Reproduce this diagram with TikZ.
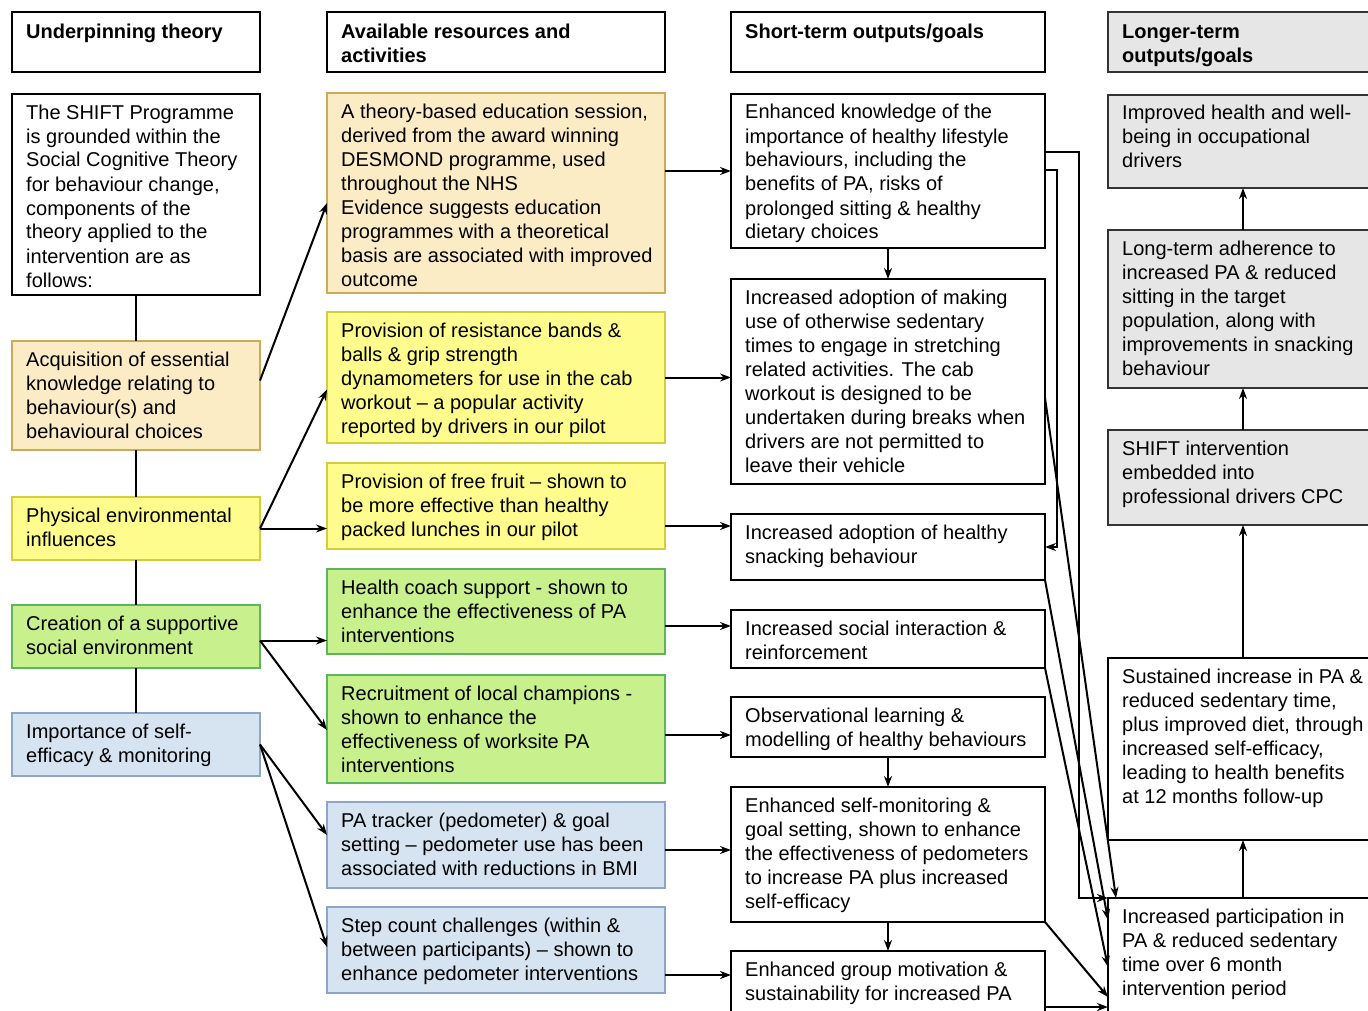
\documentclass[tikz,border=0pt]{standalone}
\usepackage{fontspec}
\setmainfont{Liberation Sans}
\usetikzlibrary{arrows.meta,calc}
\definecolor{orF}{RGB}{252,236,198}
\definecolor{orD}{RGB}{205,170,85}
\definecolor{yeF}{RGB}{253,252,140}
\definecolor{yeD}{RGB}{215,205,60}
\definecolor{grF}{RGB}{200,240,140}
\definecolor{grD}{RGB}{95,180,95}
\definecolor{blF}{RGB}{214,227,240}
\definecolor{blD}{RGB}{140,165,200}
\definecolor{gyF}{RGB}{230,230,230}
\tikzset{
 base/.style={draw, line width=1.4pt, outer sep=0pt, inner sep=0pt},
 wbox/.style={base, fill=white},
 obox/.style={base, fill=orF, draw=orD},
 ybox/.style={base, fill=yeF, draw=yeD},
 gbox/.style={base, fill=grF, draw=grD},
 bbox/.style={base, fill=blF, draw=blD},
 gybox/.style={base, fill=gyF, draw=black!80},
 txt/.style={inner sep=0pt, align=left, font=\fontsize{20}{24}\selectfont, anchor=north west},
 conn/.style={line width=2pt},
 arr/.style={conn, -{Stealth[length=11pt,width=8pt]}},
}
\newcommand\bx[8][8]{%
 \node[#7, minimum width=#5pt, minimum height=#6pt, anchor=north west] (#2) at (#3,#4) {};
 \node[txt] (#2-t) at ($(#2.north west)+(14,#1)$) {\strut #8};
}
\begin{document}
\begin{tikzpicture}[x=1pt,y=-1pt]
\useasboundingbox (0,0) rectangle (1368,1011);
\fill[white] (0,0) rectangle (1368,1011);
\clip (0,0) rectangle (1368,1011);
% headers
\bx[10]{hL}{12}{12}{248}{60}{wbox}{\textbf{Underpinning theory}}
\bx[10]{hM}{327}{12}{338}{60}{wbox}{\textbf{Available resources and}\\\textbf{activities}}
\bx[10]{hS}{731}{12}{314}{60}{wbox}{\textbf{Short-term outputs/goals}}
\bx[10]{hG}{1108}{12}{270}{60}{gybox}{\textbf{Longer-term}\\\textbf{outputs/goals}}
% left column
\bx{lShift}{12}{94}{248}{201}{wbox}{The SHIFT Programme\\is grounded within the\\Social Cognitive Theory\\for behaviour change,\\components of the\\theory applied to the\\intervention are as\\follows:}
\bx{lAcq}{12}{341}{248}{109}{obox}{Acquisition of essential\\knowledge relating to\\behaviour(s) and\\behavioural choices}
\bx{lPhys}{12}{497}{248}{63}{ybox}{Physical environmental\\influences}
\bx{lSoc}{12}{605}{248}{63}{gbox}{Creation of a supportive\\social environment}
\bx{lEff}{12}{713}{248}{63}{bbox}{Importance of self-\\efficacy \& monitoring}
% middle column
\bx{mEdu}{327}{93}{338}{200}{obox}{A theory-based education session,\\derived from the award winning\\DESMOND programme, used\\throughout the NHS\\Evidence suggests education\\programmes with a theoretical\\basis are associated with improved\\outcome}
\bx{mRes}{327}{312}{338}{131}{ybox}{Provision of resistance bands \&\\balls \& grip strength\\dynamometers for use in the cab\\workout – a popular activity\\reported by drivers in our pilot}
\bx{mFruit}{327}{463}{338}{86}{ybox}{Provision of free fruit – shown to\\be more effective than healthy\\packed lunches in our pilot}
\bx{mCoach}{327}{569}{338}{85}{gbox}{Health coach support - shown to\\enhance the effectiveness of PA\\interventions}
\bx{mChamp}{327}{675}{338}{108}{gbox}{Recruitment of local champions -\\shown to enhance the\\effectiveness of worksite PA\\interventions}
\bx{mTrack}{327}{802}{338}{86}{bbox}{PA tracker (pedometer) \& goal\\setting – pedometer use has been\\associated with reductions in BMI}
\bx{mStep}{327}{907}{338}{86}{bbox}{Step count challenges (within \&\\between participants) – shown to\\enhance pedometer interventions}
% short-term column
\bx{sKnow}{731}{94}{314}{154}{wbox}{Enhanced knowledge of the\\importance of healthy lifestyle\\behaviours, including the\\benefits of PA, risks of\\prolonged sitting \& healthy\\dietary choices}
\bx{sCab}{731}{279}{314}{205}{wbox}{Increased adoption of making\\use of otherwise sedentary\\times to engage in stretching\\related activities. The cab\\workout is designed to be\\undertaken during breaks when\\drivers are not permitted to\\leave their vehicle}
\bx{sSnack}{731}{514}{314}{66}{wbox}{Increased adoption of healthy\\snacking behaviour}
\bx{sSoc}{731}{610}{314}{58}{wbox}{Increased social interaction \&\\reinforcement}
\bx{sObs}{731}{697}{314}{60}{wbox}{Observational learning \&\\modelling of healthy behaviours}
\bx{sSelf}{731}{787}{314}{135}{wbox}{Enhanced self-monitoring \&\\goal setting, shown to enhance\\the effectiveness of pedometers\\to increase PA plus increased\\self-efficacy}
\bx{sGroup}{731}{951}{314}{70}{wbox}{Enhanced group motivation \&\\sustainability for increased PA}
% long-term column
\bx{gHealth}{1108}{95}{270}{93}{gybox}{Improved health and well-\\being in occupational\\drivers}
\bx{gAdh}{1108}{230}{270}{158}{gybox}{Long-term adherence to\\increased PA \& reduced\\sitting in the target\\population, along with\\improvements in snacking\\behaviour}
\bx{gShift}{1108}{430}{270}{95}{gybox}{SHIFT intervention\\embedded into\\professional drivers CPC}
\bx{gSust}{1108}{658}{270}{182}{wbox}{Sustained increase in PA \&\\reduced sedentary time,\\plus improved diet, through\\increased self-efficacy,\\leading to health benefits\\at 12 months follow-up}
\bx{gPart}{1108}{898}{270}{130}{wbox}{Increased participation in\\PA \& reduced sedentary\\time over 6 month\\intervention period}
% left column links
\draw[conn] (lShift.south) -- (lAcq.north);
\draw[conn] (lAcq.south) -- (lPhys.north);
\draw[conn] (lPhys.south) -- (lSoc.north);
\draw[conn] (lSoc.south) -- (lEff.north);
% left -> middle
\draw[arr] ($(lAcq.east)+(0,-15)$) -- ($(mEdu.west)+(0,10)$);
\draw[arr] (lPhys.east) -- ($(mRes.west)+(0,12)$);
\draw[arr] (lPhys.east) -- (lPhys.east -| mFruit.west);
\draw[arr] ($(lSoc.east)+(0,4)$) -- ($(mCoach.west)+(0,29)$);
\draw[arr] ($(lSoc.east)+(0,4)$) -- ($(mChamp.west)+(0,1)$);
\draw[arr] (lEff.east) -- ($(mTrack.west)+(0,-10)$);
\draw[arr] (lEff.east) -- ($(mStep.west)+(0,-3)$);
% middle -> short
\draw[arr] (sKnow.west -| mEdu.east) -- (sKnow.west);
\draw[arr] (mRes.east) -- (mRes.east -| sCab.west);
\draw[arr] ($(mFruit.east)+(0,20)$) -- ($(sSnack.west)+(0,-21)$);
\draw[arr] ($(mCoach.east)+(0,14.5)$) -- ($(sSoc.west)+(0,-13)$);
\draw[arr] ($(mChamp.east)+(0,6)$) -- ($(sObs.west)+(0,8)$);
\draw[arr] ($(mTrack.east)+(0,5)$) -- ($(sSelf.west)+(0,-4.5)$);
\draw[arr] ($(mStep.east)+(0,25)$) -- ($(sGroup.west)+(0,-11)$);
% short vertical
\draw[arr] (sKnow.south) -- (sCab.north);
\draw[arr] (sObs.south) -- (sSelf.north);
\draw[arr] (sSelf.south) -- (sGroup.north);
% short -> long
\draw[arr] ($(sKnow.east)+(0,-19)$) -- ++(34,0) |- (gPart.north west);
\draw[arr] ($(sKnow.east)+(0,-1)$) -- ++(12,0) |- (sSnack.east);
\draw[arr] ($(sCab.east)+(0,16.5)$) -- ($(gPart.north west)+(8,0)$);
\draw[arr] (sSnack.south east) -- ($(gPart.north west)+(0,22)$);
\draw[arr] (sSoc.south east) -- ($(gPart.north west)+(0,69)$);
\draw[arr] (sSelf.south east) -- ($(gPart.north west)+(0,99)$);
\draw[arr] ($(sGroup.east)+(0,21)$) -- ($(gPart.north west)+(0,109)$);
% long vertical
\draw[arr] (gPart.north) -- (gSust.south);
\draw[arr] (gSust.north) -- (gShift.south);
\draw[arr] (gShift.north) -- (gAdh.south);
\draw[arr] (gAdh.north) -- (gHealth.south);
\end{tikzpicture}
\end{document}
